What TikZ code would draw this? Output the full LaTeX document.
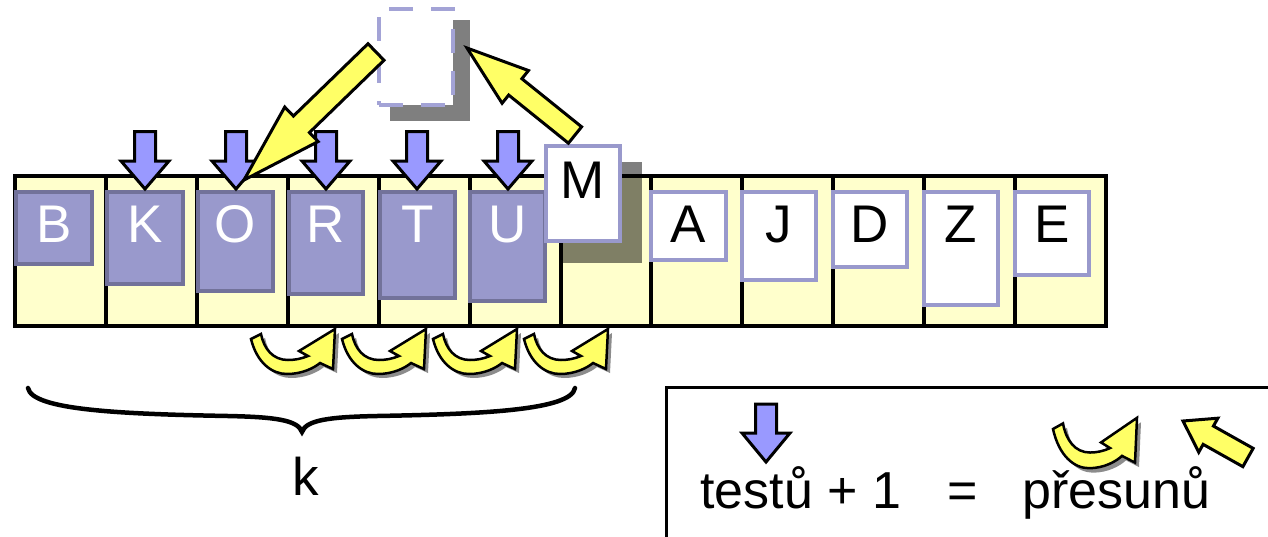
\documentclass[tikz,border=0pt]{standalone}
\usepackage{fontspec}
\setmainfont{Liberation Sans}
\usetikzlibrary{calc}

\definecolor{cellfill}{HTML}{FFFFCC}
\definecolor{tileblue}{HTML}{9999CC}
\definecolor{tileedge}{HTML}{72729A}
\definecolor{probeblue}{HTML}{9999FF}
\definecolor{moveyellow}{HTML}{FFFF66}
\definecolor{slotedge}{HTML}{A3A3D6}

\newcommand{\bigtext}{\fontsize{53}{60}\selectfont}
\newcommand{\legendtext}{\fontsize{52}{60}\selectfont}

% block arrow from tail #2 to tip #3: half shaft #4, half head #5, head length #6
\newcommand{\blockarrow}[6]{%
  \coordinate (#2-#3-h) at ($(#3)!#6!(#2)$);
  \draw[#1] ($(#2)!#4!90:(#3)$) -- ($(#2-#3-h)!#4!90:(#3)$) -- ($(#2-#3-h)!#5!90:(#3)$)
    -- (#3) -- ($(#2-#3-h)!#5!-90:(#3)$) -- ($(#2-#3-h)!#4!-90:(#3)$) -- ($(#2)!#4!-90:(#3)$) -- cycle;}

% outline of the curved "move" arrow, tail corner at the origin
\newcommand{\swappath}{(0,0) .. controls (6,24) and (21,35) .. (36,35)
  .. controls (51,35) and (63,29) .. (69,24) -- (82,30) -- (84,-10) -- (48,12) -- (57,17)
  .. controls (50,20) and (43,21) .. (37,21) .. controls (22,21) and (13,10) .. (10,-5) -- cycle}

% a tile: name, style, left ink x, right ink x, bottom ink y, letter style, letter
\newcommand{\placetile}[7]{%
  \node[#2, minimum width={#4-#3-4}, minimum height={#5-194}] (#1) at ({#3+2},192) {};
  \node[letter, #6] (#1-l) at ($(#1.north)+(0,50)$) {#7};}

\tikzset{
  tile/.style={draw=tileedge, fill=tileblue, line width=4pt, inner sep=0pt, outer sep=0pt, anchor=north west},
  card/.style={draw=tileblue, fill=white, line width=4pt, inner sep=0pt, outer sep=0pt, anchor=north west},
  letter/.style={font=\bigtext, inner sep=0pt, anchor=base},
  probe/.style={draw=black, fill=probeblue, line width=3pt, line join=miter},
  mover/.style={draw=black, fill=moveyellow, line width=3pt, line join=miter},
  liftshadow/.style={fill=black, opacity=.5},
  pics/swaparrow/.style={code={
    \fill[black, opacity=.45, shift={(4,4)}] \swappath;
    \draw[mover, line width=2.5pt] \swappath;
  }},
}

\begin{document}
\begin{tikzpicture}[x=1pt, y=-1pt]
\useasboundingbox (0,0) rectangle (1268,536);
\clip (0,0) rectangle (1268,536);

% the array of twelve cells
\node[draw, fill=cellfill, line width=4.5pt, inner sep=0pt, outer sep=0pt, anchor=north west,
      minimum width=1091, minimum height=150] (arr) at (15,176) {};
\foreach \k in {1,...,11}
  \draw[line width=4pt] ($(arr.north west)!\k/12!(arr.north east)$) -- ($(arr.south west)!\k/12!(arr.south east)$);

% sorted part
\placetile{tB}{tile}{14}{94}{266}{white}{B}
\placetile{tK}{tile}{105}{185}{286}{white}{K}
\placetile{tO}{tile}{196}{275}{293}{white}{O}
\placetile{tR}{tile}{287}{365}{296}{white}{R}
\placetile{tT}{tile}{378}{457}{300}{white}{T}
\placetile{tU}{tile}{468}{547}{303}{white}{U}
% unsorted part
\placetile{tA}{card}{649}{728}{262}{black}{A}
\placetile{tJ}{card}{740}{818}{282}{black}{J}
\placetile{tD}{card}{831}{909}{269}{black}{D}
\placetile{tZ}{card}{922}{1000}{307}{black}{Z}
\placetile{tE}{card}{1013}{1091}{277}{black}{E}

% comparisons
\foreach \n/\x in {K/145,O/236,R/326,T/417,U/508}{
  \coordinate (p\n-a) at (\x,131.5);
  \coordinate (p\n-b) at (\x,189);
  \blockarrow{probe}{p\n-a}{p\n-b}{10.5pt}{24pt}{28pt}
}

% the lifted element M and its shadow
\node[card, minimum width=74, minimum height=95] (tM) at (546,146) {};
\fill[liftshadow] ($(tM.north west)+(16,16)$) rectangle ($(tM.south east)+(22,22)$);
\node[card, minimum width=74, minimum height=95] (tM) at (546,146) {};
\node[letter] (tM-l) at ($(tM.north)+(0,52)$) {M};

% temporary slot
\fill[liftshadow] (390,20) rectangle (470,121);
\node[draw=slotedge, fill=white, line width=4pt, dash pattern=on 24pt off 18pt, inner sep=0pt,
      outer sep=0pt, anchor=north west, minimum width=74, minimum height=96] (slot) at (379,9) {};

% moves through the slot
\coordinate (m1-a) at (376,52);
\coordinate (m1-b) at (244,180);
\blockarrow{mover}{m1-a}{m1-b}{11.5pt}{24pt}{80pt}
\coordinate (m2-a) at (575,135);
\coordinate (m2-b) at (467,48);
\blockarrow{mover}{m2-a}{m2-b}{10.5pt}{21pt}{62pt}

% shifts to the right
\foreach \i/\x in {1/251,2/342,3/433,4/524}
  \pic (sw\i) at (\x,339) {swaparrow};

% brace over the sorted prefix
\coordinate (brL) at (28,388);
\coordinate (brM) at (302,432);
\coordinate (brR) at (575,388);
\draw[line width=4.5pt, line cap=round] (brL) .. controls (32,410) and (120,414) .. (228,416)
  .. controls (275,417) and (298,420) .. (brM) .. controls (306,420) and (329,417) .. (377,416)
  .. controls (485,414) and (571,410) .. (brR);
\node[letter] (klab) at (306,495) {k};

% legend
\node[draw, line width=3pt, inner sep=0pt, outer sep=0pt, anchor=north west,
      minimum width=700, minimum height=200] (legend) at (666,387) {};
\coordinate (lp-a) at (766,404);
\coordinate (lp-b) at (766,462);
\blockarrow{probe}{lp-a}{lp-b}{10.5pt}{24pt}{29pt}
\pic[yscale=1.12] (lsw) at (1053,429) {swaparrow};
\coordinate (lm-a) at (1248,457.5);
\coordinate (lm-b) at (1183,421);
\blockarrow{mover}{lm-a}{lm-b}{10.5pt}{19.5pt}{29pt}
\node[letter, font=\legendtext, anchor=base west] (lt1) at (700,508) {testů + 1};
\node[letter, font=\legendtext] (leq) at (963,508) {=};
\node[letter, font=\legendtext, anchor=base west] (lt2) at (1022,508) {přesunů};
\end{tikzpicture}
\end{document}
